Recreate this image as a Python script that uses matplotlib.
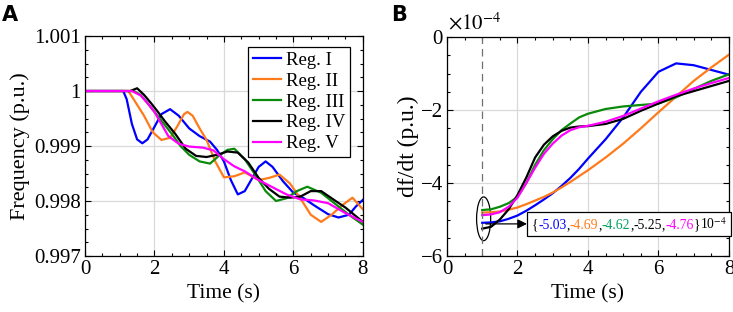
import matplotlib
matplotlib.use("Agg")
import matplotlib.pyplot as plt
from matplotlib.ticker import MultipleLocator, FormatStrFormatter
from matplotlib.patches import Ellipse
from matplotlib.offsetbox import TextArea, HPacker, AnnotationBbox

plt.rcParams['font.family'] = ['Liberation Serif', 'DejaVu Serif']
plt.rcParams['mathtext.fontset'] = 'stix'

# panel A: frequency (p.u.)
labels = ["Reg. I", "Reg. II", "Reg. III", "Reg. IV", "Reg. V"]
colors = ["#0000FF", "#FF7A1A", "#0A8A0A", "#000000", "#FF00FF"]

t_reg1 = [0, 1.1, 1.2, 1.35, 1.5, 1.65, 1.8, 2.0, 2.2, 2.45, 2.7, 3.0, 3.3, 3.6, 3.8, 4.0,
          4.2, 4.4, 4.6, 4.8, 5.0, 5.2, 5.4, 5.7, 6.0, 6.3, 6.6, 7.0, 7.3, 7.6, 7.8, 8.0]
f_reg1 = [1.0, 1.0, 0.99985, 0.9994, 0.99912, 0.99905, 0.99912, 0.99935, 0.99958, 0.99967,
          0.99955, 0.99932, 0.99918, 0.99908, 0.99893, 0.99872, 0.99838, 0.99812, 0.99818,
          0.9984, 0.99862, 0.99872, 0.99862, 0.99836, 0.99815, 0.99805, 0.99792, 0.99776,
          0.9977, 0.99775, 0.9979, 0.99802]

t_reg2 = [0, 1.25, 1.45, 1.7, 1.95, 2.2, 2.45, 2.65, 2.85, 2.95, 3.1, 3.3, 3.5, 3.75, 4.0,
          4.3, 4.6, 5.0, 5.3, 5.6, 5.9, 6.2, 6.5, 6.8, 7.1, 7.4, 7.7, 8.0]
f_reg2 = [1.0, 1.0, 0.9998, 0.99955, 0.99925, 0.99911, 0.99915, 0.99935, 0.99958, 0.99962,
          0.99955, 0.99932, 0.99911, 0.99872, 0.99843, 0.99845, 0.99852, 0.99838, 0.99842,
          0.99848, 0.99832, 0.99805, 0.99775, 0.99762, 0.99775, 0.99792, 0.99806, 0.99785]

t_reg3 = [0, 1.4, 1.6, 1.8, 2.0, 2.25, 2.5, 2.75, 3.0, 3.3, 3.6, 3.85, 4.1, 4.3, 4.6, 4.9,
          5.2, 5.5, 5.8, 6.1, 6.4, 6.8, 7.2, 7.6, 8.0]
f_reg3 = [1.0, 1.0, 0.99993, 0.99978, 0.99962, 0.99942, 0.99922, 0.999, 0.99884, 0.99872,
          0.99868, 0.99882, 0.99893, 0.99895, 0.99876, 0.99848, 0.99818, 0.998, 0.99805,
          0.99818, 0.99826, 0.99815, 0.99795, 0.99775, 0.99757]

t_reg4 = [0, 1.3, 1.5, 1.7, 1.9, 2.1, 2.3, 2.6, 2.9, 3.2, 3.5, 3.8, 4.1, 4.4, 4.7, 5.0,
          5.3, 5.6, 5.9, 6.2, 6.5, 6.8, 7.1, 7.5, 8.0]
f_reg4 = [1.0, 1.0, 1.00005, 0.99993, 0.99978, 0.99962, 0.99945, 0.99922, 0.99895, 0.99882,
          0.9988, 0.99884, 0.9989, 0.99888, 0.9987, 0.99842, 0.99822, 0.99808, 0.99806,
          0.99808, 0.99818, 0.99818, 0.99805, 0.99788, 0.99762]

t_reg5 = [0, 1.35, 1.6, 1.8, 2.0, 2.2, 2.4, 2.7, 3.0, 3.4, 3.7, 4.0, 4.3, 4.6, 5.0, 5.4,
          5.8, 6.2, 6.6, 7.0, 7.5, 8.0]
f_reg5 = [1.0, 1.0, 0.99992, 0.99978, 0.99962, 0.9994, 0.99918, 0.99904, 0.99899, 0.99897,
          0.99892, 0.99876, 0.99863, 0.99854, 0.99838, 0.99825, 0.99812, 0.99803, 0.99801,
          0.99796, 0.99778, 0.99762]

# panel B: df/dt in units of 1e-4
t_rocof = [1, 1.25, 1.5, 1.75, 2, 2.25, 2.5, 2.75, 3, 3.25, 3.5, 3.75, 4,
           4.5, 5, 5.5, 6, 6.5, 7, 7.5, 8]
r_reg1 = [-5.09, -5.08, -5.05, -4.98, -4.89, -4.76, -4.61, -4.45, -4.28, -4.08, -3.86, -3.61,
          -3.33, -2.8, -2.2, -1.5, -0.95, -0.72, -0.77, -0.9, -1.03]
r_reg2 = [-4.81, -4.8, -4.78, -4.73, -4.67, -4.58, -4.48, -4.38, -4.26, -4.12, -3.97, -3.81,
          -3.65, -3.3, -2.92, -2.5, -2.06, -1.63, -1.2, -0.83, -0.48]
r_reg3 = [-4.74, -4.72, -4.65, -4.55, -4.38, -4.0, -3.5, -3.1, -2.8, -2.55, -2.37, -2.2,
          -2.1, -1.97, -1.9, -1.86, -1.82, -1.65, -1.42, -1.2, -1.02]
r_reg4 = [-5.25, -5.2, -5.0, -4.72, -4.33, -3.85, -3.3, -2.95, -2.72, -2.57, -2.48, -2.45,
          -2.44, -2.38, -2.24, -2.02, -1.82, -1.62, -1.48, -1.34, -1.2]
r_reg5 = [-4.88, -4.86, -4.8, -4.65, -4.4, -4.0, -3.58, -3.2, -2.92, -2.7, -2.55, -2.47,
          -2.43, -2.32, -2.16, -1.96, -1.76, -1.58, -1.41, -1.26, -1.12]

rocof_labels = ["-5.03", "-4.69", "-4.62", "-5.25", "-4.76"]
label_colors = ["#0000FF", "#FF7A1A", "#00A060", "#000000", "#FF00FF"]

freq_t = [t_reg1, t_reg2, t_reg3, t_reg4, t_reg5]
freq_f = [f_reg1, f_reg2, f_reg3, f_reg4, f_reg5]
rocof = [r_reg1, r_reg2, r_reg3, r_reg4, r_reg5]


def style_axes(ax):
    ax.tick_params(which='both', direction='in', top=True, right=True,
                   labelsize=15, width=0.8, pad=3)
    ax.tick_params(which='major', length=4)
    ax.tick_params(which='minor', length=2.5)
    ax.grid(True, which='major', color='#d9d9d9', linewidth=0.9)
    ax.set_axisbelow(True)
    for sp in ax.spines.values():
        sp.set_linewidth(0.9)


fig = plt.figure(figsize=(7.33, 3.12), dpi=100)

# ---- panel A
ax1 = fig.add_axes([0.116, 0.1795, 0.379, 0.705])
for t, f, c, lab in zip(freq_t, freq_f, colors, labels):
    ax1.plot(t, f, color=c, linewidth=1.6, label=lab)
ax1.set_xlim(0, 8)
ax1.set_ylim(0.997, 1.001)
ax1.xaxis.set_major_locator(MultipleLocator(2))
ax1.xaxis.set_minor_locator(MultipleLocator(0.5))
ax1.yaxis.set_major_locator(MultipleLocator(0.001))
ax1.yaxis.set_minor_locator(MultipleLocator(0.00025))
ax1.yaxis.set_major_formatter(FormatStrFormatter('%g'))
style_axes(ax1)
ax1.set_xlabel("Time (s)", fontsize=15.5, labelpad=4)
ax1.set_ylabel("Frequency (p.u.)", fontsize=16, labelpad=3)
leg = ax1.legend(loc='upper right', bbox_to_anchor=(0.955, 0.95), fontsize=13.5,
                 frameon=True, fancybox=False, edgecolor='black', framealpha=1,
                 handlelength=1.5, borderpad=0.25, labelspacing=0.2, handletextpad=0.3,
                 borderaxespad=0)
leg.get_frame().set_linewidth(0.9)

# ---- panel B
ax2 = fig.add_axes([0.6098, 0.1795, 0.3847, 0.7015])
for r, c in zip(rocof, colors):
    ax2.plot(t_rocof, r, color=c, linewidth=1.6)
ax2.axvline(1, color='#707070', linewidth=0.9, linestyle=(0, (6, 4)))
ax2.add_patch(Ellipse((1.04, -4.98), 0.4, 1.2, fill=False, edgecolor='black', linewidth=0.9))
ax2.set_xlim(0, 8)
ax2.set_ylim(-6, 0)
ax2.xaxis.set_major_locator(MultipleLocator(2))
ax2.xaxis.set_minor_locator(MultipleLocator(0.5))
ax2.yaxis.set_major_locator(MultipleLocator(2))
ax2.yaxis.set_minor_locator(MultipleLocator(0.5))
style_axes(ax2)
ax2.set_xlabel("Time (s)", fontsize=15.5, labelpad=4)
ax2.set_ylabel("df/dt (p.u.)", fontsize=17, labelpad=1)
ax2.text(0.005, 1.01, r"$\times10^{-4}$", transform=ax2.transAxes, fontsize=15,
         ha='left', va='bottom')

fs = 9.8
parts = [TextArea("{", textprops=dict(color='black', fontsize=fs))]
for i, (s, c) in enumerate(zip(rocof_labels, label_colors)):
    parts.append(TextArea(s, textprops=dict(color=c, fontsize=fs)))
    parts.append(TextArea("," if i < len(rocof_labels) - 1 else "}",
                          textprops=dict(color='black', fontsize=fs)))
parts.append(TextArea(r"10$^{-4}$", textprops=dict(color='black', fontsize=fs)))
box = HPacker(children=parts, align='baseline', pad=0, sep=0)
ab = AnnotationBbox(box, (1.1, -5.12), xybox=(2.4, -5.12), xycoords='data',
                    box_alignment=(0, 0.5), pad=0.2,
                    bboxprops=dict(boxstyle='square', edgecolor='black', linewidth=0.9),
                    arrowprops=dict(arrowstyle='<|-', color='black', linewidth=0.9,
                                    shrinkA=0, shrinkB=0, mutation_scale=10))
ax2.add_artist(ab)

fig.text(0.003, 0.985, "A", fontsize=15, fontweight='bold', family='DejaVu Sans',
         ha='left', va='top')
fig.text(0.533, 0.985, "B", fontsize=15, fontweight='bold', family='DejaVu Sans',
         ha='left', va='top')

fig.savefig("out.png", dpi=100)
